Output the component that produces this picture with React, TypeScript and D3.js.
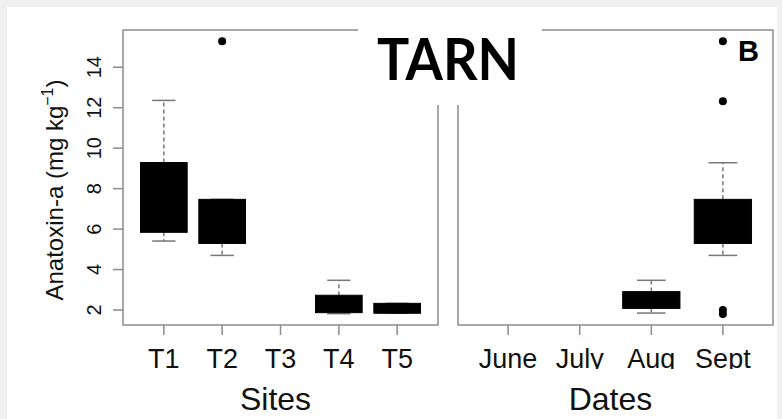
import React, { useEffect, useRef } from 'react';
import * as d3 from 'd3';

// Sites panel (A)
const sites = ['T1', 'T2', 'T3', 'T4', 'T5'];
const siteWhiskerLow = [5.41, 4.7, null, 1.82, 1.84];
const siteQ1 = [5.84, 5.29, null, 1.87, 1.84];
const siteQ3 = [9.29, 7.47, null, 2.73, 2.33];
const siteWhiskerHigh = [12.36, 7.47, null, 3.47, 2.33];
const siteOutliers = [[], [15.28], [], [], []];

// Dates panel (B)
const dates = ['June', 'July', 'Aug', 'Sept'];
const dateWhiskerLow = [null, null, 1.85, 4.7];
const dateQ1 = [null, null, 2.08, 5.29];
const dateQ3 = [null, null, 2.91, 7.47];
const dateWhiskerHigh = [null, null, 3.47, 9.28];
const dateOutliers = [[], [], [], [15.28, 12.32, 2.0, 1.8]];

const yTicks = [2, 4, 6, 8, 10, 12, 14];

const W = 782;
const H = 419;
const top = 30;
const bottom = 325;
const FONT = '"Liberation Sans", Arial, Helvetica, sans-serif';
const FRAME = '#8c8c8c';
const INK = '#111';

type Panel = {
  cats: string[];
  lo: (number | null)[];
  q1: (number | null)[];
  q3: (number | null)[];
  hi: (number | null)[];
  out: number[][];
  left: number;
  right: number;
  title: string;
};

const App = () => {
  const ref = useRef<SVGSVGElement>(null);

  useEffect(() => {
    document.body.style.margin = '0';
    const svg = d3.select(ref.current);
    svg.selectAll('*').remove();

    svg.append('rect').attr('width', W).attr('height', H).attr('fill', '#f0f0f0');
    svg.append('rect').attr('x', 7).attr('y', 7).attr('width', 770).attr('height', H - 7).attr('fill', '#fff');

    // labels below the axis are cut off at the bottom in the original
    svg.append('defs').append('clipPath').attr('id', 'tickclip')
      .append('rect').attr('x', 0).attr('y', 0).attr('width', W).attr('height', 369);

    const y = d3.scaleLinear().domain([1.26, 15.84]).range([bottom, top]);

    const panels: Panel[] = [
      { cats: sites, lo: siteWhiskerLow, q1: siteQ1, q3: siteQ3, hi: siteWhiskerHigh, out: siteOutliers, left: 123, right: 438, title: 'Sites' },
      { cats: dates, lo: dateWhiskerLow, q1: dateQ1, q3: dateQ3, hi: dateWhiskerHigh, out: dateOutliers, left: 458, right: 773, title: 'Dates' }
    ];

    panels.forEach(p => {
      const x = d3.scalePoint<string>().domain(p.cats).range([p.left, p.right]).padding(0.7);
      const step = x.step();
      const bw = step * 0.8;
      const g = svg.append('g');

      // frame
      g.append('rect')
        .attr('x', p.left).attr('y', top)
        .attr('width', p.right - p.left).attr('height', bottom - top)
        .attr('fill', 'none').attr('stroke', FRAME).attr('stroke-width', 1.5);

      // x ticks
      g.selectAll('.xtick').data(p.cats).enter()
        .append('line')
        .attr('x1', d => x(d)!).attr('x2', d => x(d)!)
        .attr('y1', bottom).attr('y2', bottom + 10)
        .attr('stroke', FRAME).attr('stroke-width', 1.5);

      g.append('g').attr('clip-path', 'url(#tickclip)')
        .selectAll('text').data(p.cats).enter()
        .append('text')
        .attr('x', d => x(d)!).attr('y', 368)
        .attr('text-anchor', 'middle')
        .attr('font-family', FONT).attr('font-size', 27).attr('fill', INK)
        .text(d => d);

      g.append('text')
        .attr('x', (p.left + p.right) / 2 - 5).attr('y', 410)
        .attr('text-anchor', 'middle')
        .attr('font-family', FONT).attr('font-size', 32).attr('fill', INK)
        .text(p.title);

      // boxes
      p.cats.forEach((c, i) => {
        const cx = x(c)!;
        const lo = p.lo[i], q1 = p.q1[i], q3 = p.q3[i], hi = p.hi[i];
        if (lo !== null && q1 !== null && q3 !== null && hi !== null) {
          [[q3, hi], [q1, lo]].forEach(([a, b]) => {
            if (Math.abs(y(a) - y(b)) > 1) {
              g.append('line')
                .attr('x1', cx).attr('x2', cx).attr('y1', y(a)).attr('y2', y(b))
                .attr('stroke', '#777').attr('stroke-width', 1.5).attr('stroke-dasharray', '4,3');
            }
            g.append('line')
              .attr('x1', cx - bw / 4).attr('x2', cx + bw / 4).attr('y1', y(b)).attr('y2', y(b))
              .attr('stroke', '#777').attr('stroke-width', 1.5);
          });
          g.append('rect')
            .attr('x', cx - bw / 2).attr('y', y(q3))
            .attr('width', bw).attr('height', Math.max(y(q1) - y(q3), 1))
            .attr('fill', '#000').attr('stroke', '#000').attr('stroke-width', 1);
        }
        g.selectAll('.out-' + i).data(p.out[i]).enter()
          .append('circle')
          .attr('cx', cx).attr('cy', d => y(d)).attr('r', 4)
          .attr('fill', '#000');
      });
    });

    // y axis on the left panel
    const ya = svg.append('g');
    ya.selectAll('line').data(yTicks).enter()
      .append('line')
      .attr('x1', 113).attr('x2', 123)
      .attr('y1', d => y(d)).attr('y2', d => y(d))
      .attr('stroke', FRAME).attr('stroke-width', 1.5);
    ya.selectAll('text').data(yTicks).enter()
      .append('text')
      .attr('transform', d => `translate(101,${y(d)}) rotate(-90)`)
      .attr('text-anchor', 'middle')
      .attr('font-family', FONT).attr('font-size', 20).attr('fill', INK)
      .text(d => d);

    const yt = svg.append('text')
      .attr('transform', 'translate(63,190) rotate(-90)')
      .attr('text-anchor', 'middle')
      .attr('font-family', FONT).attr('font-size', 24).attr('fill', INK);
    yt.append('tspan').text('Anatoxin-a (mg kg');
    yt.append('tspan').attr('font-size', 16).attr('dy', -10).text('\u22121');
    yt.append('tspan').attr('dy', 10).text(')');

    // title patch
    svg.append('rect').attr('x', 358).attr('y', 20).attr('width', 184).attr('height', 85).attr('fill', '#fff');
    svg.append('text')
      .attr('x', 377).attr('y', 80)
      .attr('font-family', 'Lato, "Open Sans", sans-serif').attr('font-weight', 700)
      .attr('font-size', 58).attr('fill', '#000')
      .attr('textLength', 142).attr('lengthAdjust', 'spacingAndGlyphs')
      .text('TARN');

    svg.append('text')
      .attr('x', 738).attr('y', 61)
      .attr('font-family', FONT).attr('font-weight', 700)
      .attr('font-size', 29).attr('fill', '#000')
      .text('B');
  }, []);

  return <svg ref={ref} width={W} height={H} style={{ display: 'block' }} />;
};

export default App;
